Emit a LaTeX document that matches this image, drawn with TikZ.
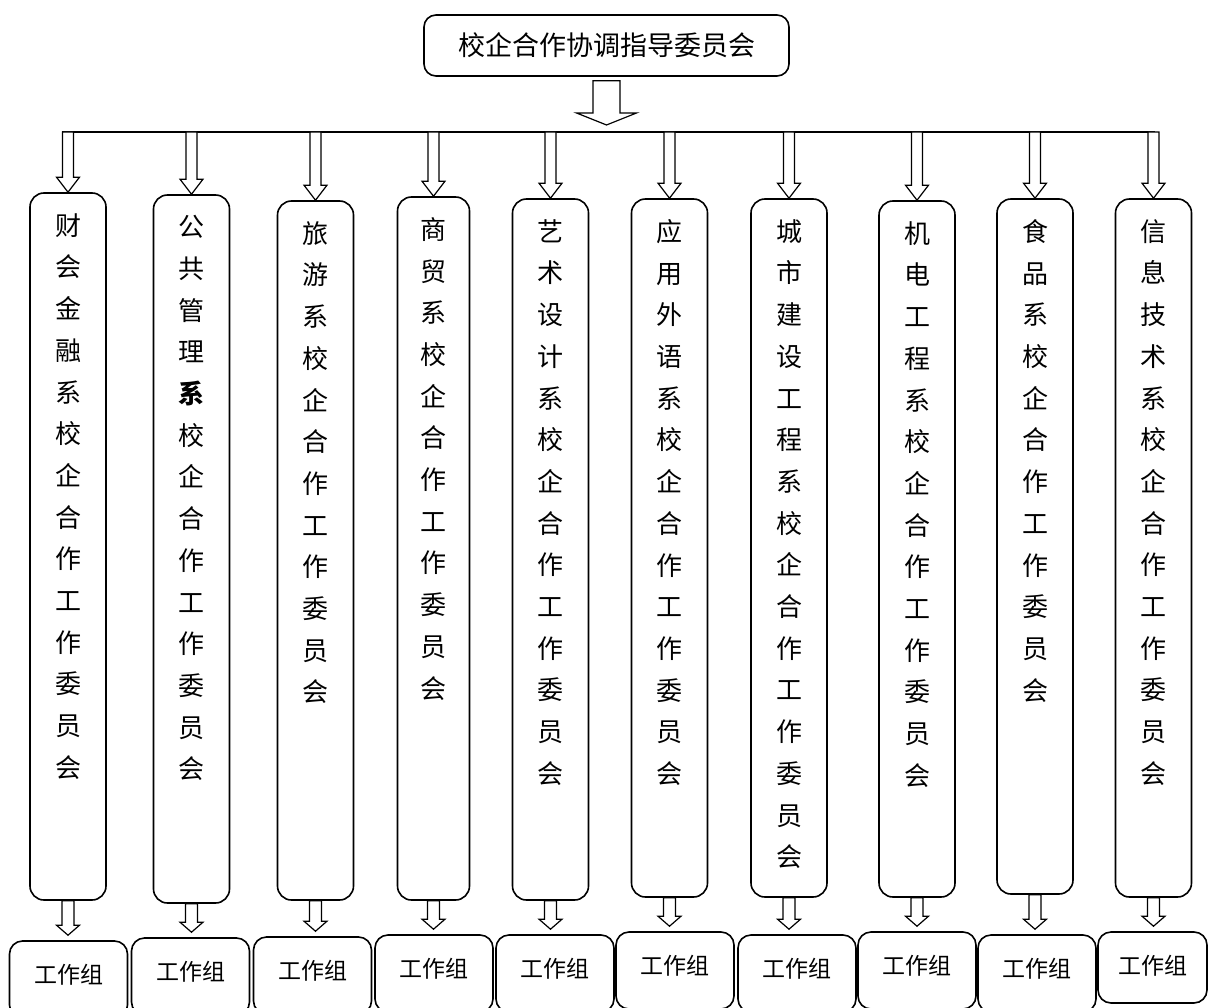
\documentclass[tikz,border=0pt]{standalone}
\usepackage{fontspec}
\newfontfamily\cjk{Noto Sans CJK SC}
\usetikzlibrary{calc}

\tikzstyle{topbox}=[rectangle,draw,line width=1.6pt,rounded corners=12pt,
minimum width=365pt,minimum height=61pt,font=\cjk\fontsize{27}{30}\selectfont]
\tikzstyle{colbox}=[rectangle,draw,line width=1.6pt,rounded corners=14pt,minimum width=76pt]
\tikzstyle{coltext}=[anchor=north,align=center,inner sep=0pt,
font=\cjk\fontsize{26}{41.7}\selectfont]
\tikzstyle{groupbox}=[rectangle,draw,line width=1.6pt,rounded corners=13pt,anchor=base,
minimum width=118pt,inner ysep=1pt,text height=41pt,text depth=34pt,
font=\cjk\fontsize{23}{26}\selectfont]
\tikzstyle{bar}=[draw,line width=1.8pt]
\tikzstyle{hollow}=[draw,line width=1.2pt,fill=white]

% hollow block arrow pointing down: from, to, half shaft, half head, head length
\newcommand{\hollowarrow}[5]{%
\path [hollow] let \p1=(#1), \p2=(#2) in
(\x1-#3,\y1) -- (\x1+#3,\y1) -- (\x1+#3,\y2+#5) -- (\x1+#4,\y2+#5)
-- (\x1,\y2) -- (\x1-#4,\y2+#5) -- (\x1-#3,\y2+#5) -- cycle;}

\begin{document}
\begin{tikzpicture}[x=1pt,y=-1pt]
\useasboundingbox (0,0) rectangle (1209,1008);

\node [topbox] (top) at (606.5,45.5) {校企合作协调指导委员会};
\coordinate (barL) at (62,132);
\coordinate (barR) at (1155,132);
\coordinate (bartip) at (606.5,125);

% department committees
\node [colbox,minimum height=707pt] (c1) at (68,546.5) {};
\node [colbox,minimum height=708pt] (c2) at (191.5,549) {};
\node [colbox,minimum height=699pt] (c3) at (315.5,550.5) {};
\node [colbox,minimum height=703pt,minimum width=72pt] (c4) at (433.5,548.5) {};
\node [colbox,minimum height=701pt] (c5) at (550.5,549.5) {};
\node [colbox,minimum height=698pt] (c6) at (669.5,548) {};
\node [colbox,minimum height=698pt] (c7) at (789,548) {};
\node [colbox,minimum height=696pt] (c8) at (917,549) {};
\node [colbox,minimum height=695pt] (c9) at (1035,546.5) {};
\node [colbox,minimum height=698pt] (c10) at (1153.5,548) {};

\node [coltext] (t1) at ([yshift=-21pt]c1.north) {财\\会\\金\\融\\系\\校\\企\\合\\作\\工\\作\\委\\员\\会};
\node [coltext] (t2) at ([yshift=-21pt]c2.north) {公\\共\\管\\理\\{\bfseries 系}\\校\\企\\合\\作\\工\\作\\委\\员\\会};
\node [coltext] (t3) at ([yshift=-21pt]c3.north) {旅\\游\\系\\校\\企\\合\\作\\工\\作\\委\\员\\会};
\node [coltext] (t4) at ([yshift=-21pt]c4.north) {商\\贸\\系\\校\\企\\合\\作\\工\\作\\委\\员\\会};
\node [coltext] (t5) at ([yshift=-21pt]c5.north) {艺\\术\\设\\计\\系\\校\\企\\合\\作\\工\\作\\委\\员\\会};
\node [coltext] (t6) at ([yshift=-21pt]c6.north) {应\\用\\外\\语\\系\\校\\企\\合\\作\\工\\作\\委\\员\\会};
\node [coltext] (t7) at ([yshift=-21pt]c7.north) {城\\市\\建\\设\\工\\程\\系\\校\\企\\合\\作\\工\\作\\委\\员\\会};
\node [coltext] (t8) at ([yshift=-21pt]c8.north) {机\\电\\工\\程\\系\\校\\企\\合\\作\\工\\作\\委\\员\\会};
\node [coltext] (t9) at ([yshift=-21pt]c9.north) {食\\品\\系\\校\\企\\合\\作\\工\\作\\委\\员\\会};
\node [coltext] (t10) at ([yshift=-21pt]c10.north) {信\\息\\技\\术\\系\\校\\企\\合\\作\\工\\作\\委\\员\\会};

% working groups
\node [groupbox] (g1) at (68.5,983) {工作组};
\node [groupbox] (g2) at (190.5,980) {工作组};
\node [groupbox] (g3) at (312.5,979) {工作组};
\node [groupbox] (g4) at (434,977) {工作组};
\node [groupbox] (g5) at (555,977) {工作组};
\node [groupbox] (g6) at (675,974) {工作组};
\node [groupbox] (g7) at (797,977) {工作组};
\node [groupbox] (g8) at (917,974) {工作组};
\node [groupbox] (g9) at (1037,977) {工作组};
\node [groupbox,minimum width=109pt,text depth=28pt] (g10) at (1152.5,974) {工作组};

\path [bar] (barL) -- (barR);
\hollowarrow{[yshift=-4pt]top.south}{bartip}{13.5pt}{30pt}{12pt}

\hollowarrow{c1.north |- barL}{c1.north}{5.5pt}{11.5pt}{15pt}
\hollowarrow{c2.north |- barL}{c2.north}{5.5pt}{11.5pt}{15pt}
\hollowarrow{c3.north |- barL}{c3.north}{5.5pt}{11.5pt}{15pt}
\hollowarrow{c4.north |- barL}{c4.north}{5.5pt}{11.5pt}{15pt}
\hollowarrow{c5.north |- barL}{c5.north}{5.5pt}{11.5pt}{15pt}
\hollowarrow{c6.north |- barL}{c6.north}{5.5pt}{11.5pt}{15pt}
\hollowarrow{c7.north |- barL}{c7.north}{5.5pt}{11.5pt}{15pt}
\hollowarrow{c8.north |- barL}{c8.north}{5.5pt}{11.5pt}{15pt}
\hollowarrow{c9.north |- barL}{c9.north}{5.5pt}{11.5pt}{15pt}
\hollowarrow{c10.north |- barL}{c10.north}{5.5pt}{11.5pt}{15pt}

\hollowarrow{c1.south}{[yshift=5pt]g1.north}{6pt}{11.5pt}{10pt}
\hollowarrow{c2.south}{[yshift=5pt]g2.north}{6pt}{11.5pt}{10pt}
\hollowarrow{c3.south}{[yshift=5pt]g3.north}{6pt}{11.5pt}{10pt}
\hollowarrow{c4.south}{[yshift=5pt]g4.north}{6pt}{11.5pt}{10pt}
\hollowarrow{c5.south}{[yshift=5pt]g5.north}{6pt}{11.5pt}{10pt}
\hollowarrow{c6.south}{[yshift=5pt]g6.north}{6pt}{11.5pt}{10pt}
\hollowarrow{c7.south}{[yshift=5pt]g7.north}{6pt}{11.5pt}{10pt}
\hollowarrow{c8.south}{[yshift=5pt]g8.north}{6pt}{11.5pt}{10pt}
\hollowarrow{c9.south}{[yshift=5pt]g9.north}{6pt}{11.5pt}{10pt}
\hollowarrow{c10.south}{[yshift=5pt]g10.north}{6pt}{11.5pt}{10pt}
\end{tikzpicture}
\end{document}
